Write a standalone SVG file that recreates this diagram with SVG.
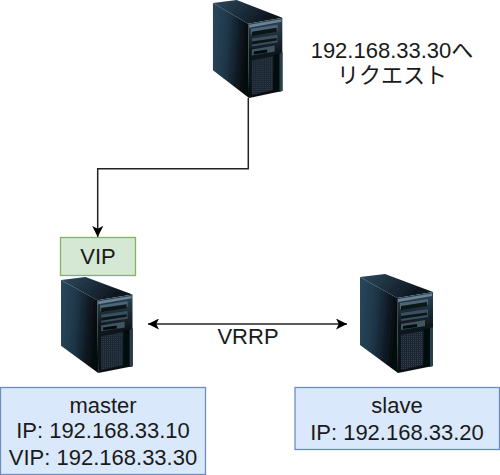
<svg xmlns="http://www.w3.org/2000/svg" width="500" height="475" viewBox="0 0 500 475">
<style>
text{font-family:"Liberation Sans","Noto Sans CJK JP",sans-serif;font-size:22px;fill:#1a1a1a;text-anchor:middle}
.c{fill:none;stroke:#222;stroke-width:1.5}
.blue{fill:#dae8fc;stroke:#6c8ebf;stroke-width:1.3}
.green{fill:#d5e8d4;stroke:#82b366;stroke-width:1.3}
</style>
<defs>
<linearGradient id="side" x1="0" y1="0" x2="1" y2="0.2"><stop offset="0" stop-color="#2a475c"/><stop offset="0.45" stop-color="#1e3648"/><stop offset="1" stop-color="#05080c"/></linearGradient>
<linearGradient id="top" x1="0" y1="0" x2="1" y2="0.3"><stop offset="0" stop-color="#2d4a5e"/><stop offset="1" stop-color="#0a1219"/></linearGradient>
<linearGradient id="front" x1="0" y1="0" x2="0" y2="1"><stop offset="0" stop-color="#2f4656"/><stop offset="0.4" stop-color="#10191f"/><stop offset="1" stop-color="#0a0f14"/></linearGradient>
<pattern id="mesh" width="2" height="2" patternUnits="userSpaceOnUse"><rect width="2" height="2" fill="#1a2630"/><rect width="1" height="1" fill="#33424d"/></pattern>
<filter id="soft" x="-5%" y="-5%" width="110%" height="110%"><feGaussianBlur stdDeviation="0.5"/></filter>
<marker id="arr" viewBox="0 0 10 10" refX="10" refY="5" markerWidth="11" markerHeight="11" markerUnits="userSpaceOnUse" orient="auto-start-reverse"><path d="M0,0 L10,5 L0,10 L2.5,5 Z" fill="#000"/></marker>
<g id="srv" filter="url(#soft)">
<path d="M1,3 L26,0 L74,18 L38,24 Z" fill="url(#top)"/>
<path d="M1,3 L38,24 L39,99 L1,71 Z" fill="url(#side)"/>
<path d="M38,24 L74,18 L74,92 L39,99 Z" fill="url(#front)"/>
<path d="M39,25 L73,19.5 L73,22 L39,28 Z" fill="#6a8396"/>
<path d="M41,29 L69,25 L69,31 L41,35 Z" fill="#4d6576"/>
<path d="M42,32 L68,28 L68,32 L42,36 Z" fill="#0c1319"/>
<path d="M42,39 L69,35 L69,43 L42,47 Z" fill="#3a4f5e"/>
<path d="M42,42 L68,38.5 L68,41 L42,45 Z" fill="#0c1319"/>
<path d="M42,50 L66,46 L66,52 L42,56 Z" fill="#40545f"/>
<path d="M44,52 L58,50 L58,53 L44,55 Z" fill="#06090c"/>
<path d="M42,61 L64,57 L64,91 L42,96 Z" fill="url(#mesh)"/>
<path d="M65,55 L74,53 L74,92 L65,93 Z" fill="#06090c"/>
<path d="M71,54 L74,53 L74,92 L71,92.5 Z" fill="#2b3d4a"/>
</g>
</defs>
<g id="connectors">
<path class="c" d="M248.3,98 V168.7 H97.7 V237" marker-end="url(#arr)"/>
<path class="c" d="M148,324 H347" marker-start="url(#arr)" marker-end="url(#arr)"/>
</g>
<g id="client"><use href="#srv" transform="translate(212,0) scale(0.95,0.99)"/></g>
<g id="request-label"><text x="392" y="58">192.168.33.30へ</text><text x="392" y="83">リクエスト</text></g>
<g id="vip"><rect class="green" x="60.5" y="237.5" width="75" height="38"/><text x="98" y="264">VIP</text></g>
<g id="master-server"><use href="#srv" transform="translate(60,277) scale(0.98,0.97)"/></g>
<g id="slave-server"><use href="#srv" transform="translate(359,274)"/></g>
<g id="vrrp-label"><text x="248" y="344">VRRP</text></g>
<g id="master"><rect class="blue" x="0.5" y="387.5" width="205" height="87"/><text x="103" y="413">master</text><text x="103" y="438">IP: 192.168.33.10</text><text x="103" y="465">VIP: 192.168.33.30</text></g>
<g id="slave"><rect class="blue" x="295" y="387.5" width="204.5" height="62"/><text x="397" y="413">slave</text><text x="397" y="440">IP: 192.168.33.20</text></g>
</svg>
